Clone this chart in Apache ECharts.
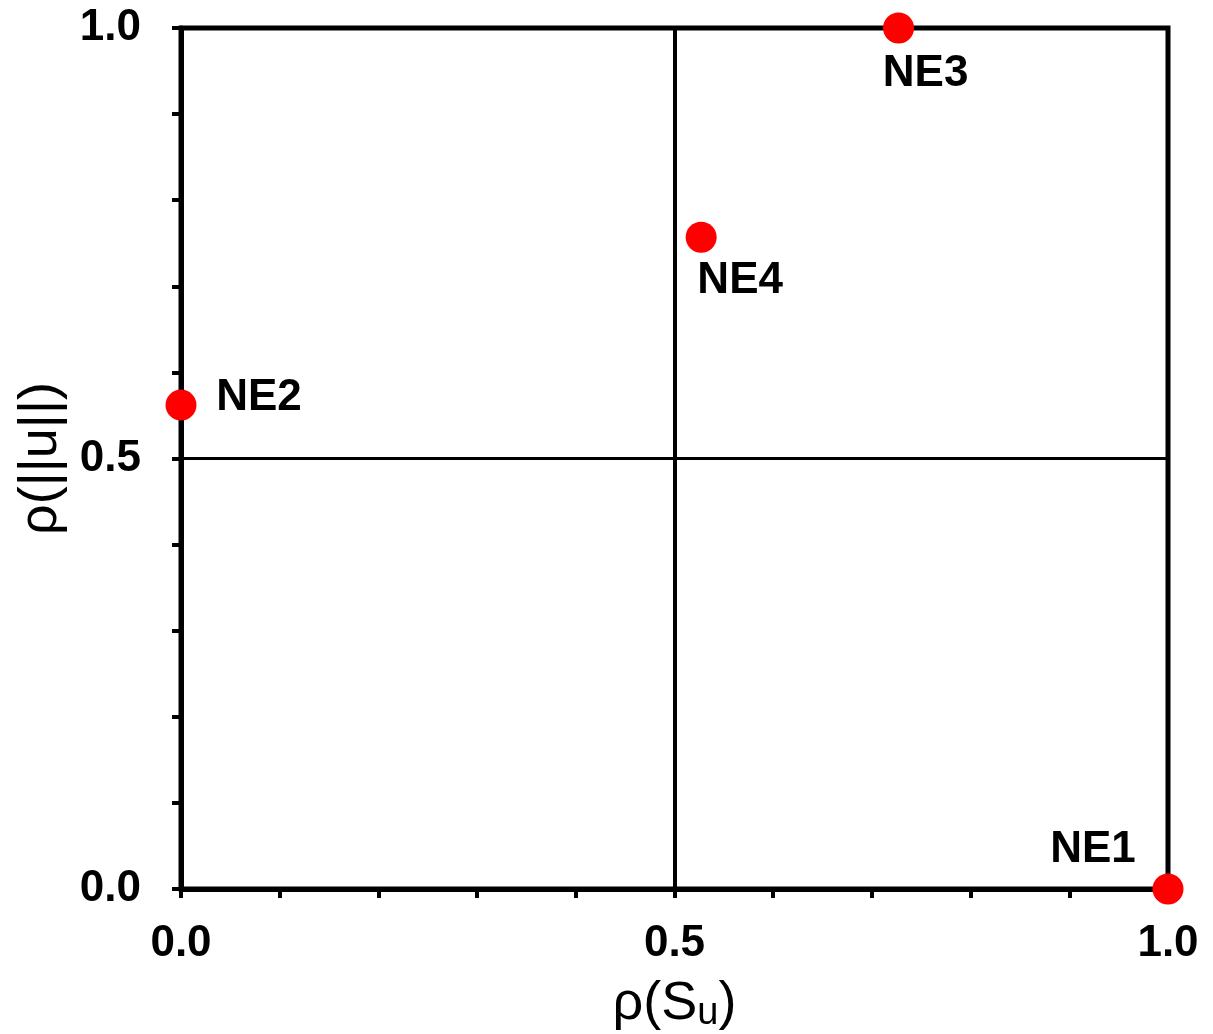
<!DOCTYPE html>
<html>
<head>
<meta charset="utf-8">
<script src="https://cdn.jsdelivr.net/npm/echarts@6/dist/echarts.min.js"></script>
<style>html,body{margin:0;padding:0;background:#fff}#c{width:1213px;height:1034px}</style>
</head>
<body>
<div id="c"></div>
<script>
var names = ['NE1', 'NE2', 'NE3', 'NE4'];
var xValues = [1.0, 0.0, 0.727, 0.527];
var yValues = [0.0, 0.562, 1.0, 0.757];
var tickLabels = ['0.0', '0.5', '1.0'];
var labelOffsets = [[-75, -39], [78, -7], [27, 46], [39, 44]];

var FONT = '"Liberation Sans", Arial, sans-serif';
var chart = echarts.init(document.getElementById('c'));
function fmt(v) {
  var s = (Math.round(v * 10) / 10).toFixed(1);
  return tickLabels.indexOf(s) >= 0 ? s : '';
}
var data = names.map(function (n, i) {
  return {
    name: n,
    value: [xValues[i], yValues[i]],
    label: { offset: labelOffsets[i] }
  };
});
var axisCommon = {
  type: 'value', min: 0, max: 1, interval: 0.1,
  axisLine: { show: true, lineStyle: { color: '#000', width: 5 } },
  axisTick: { show: true, inside: false, length: 9, lineStyle: { color: '#000', width: 4 } },
  splitLine: { show: false },
  axisLabel: { formatter: fmt, color: '#000', fontFamily: FONT, fontWeight: 'bold', fontSize: 44 },
  nameLocation: 'middle',
  nameMoveOverlap: false,
  nameTextStyle: { color: '#000', fontFamily: FONT, fontSize: 54 }
};
chart.setOption({
  animation: false,
  backgroundColor: '#fff',
  grid: {
    left: 181, right: 45, top: 28, bottom: 145,
    containLabel: false, outerBoundsMode: 'none',
    show: true, borderColor: '#000', borderWidth: 5, backgroundColor: 'transparent'
  },
  xAxis: Object.assign({}, axisCommon, {
    name: 'ρ(S{sub|u})',
    nameGap: 86,
    axisLabel: Object.assign({}, axisCommon.axisLabel, { margin: 33 }),
    nameTextStyle: Object.assign({}, axisCommon.nameTextStyle, {
      rich: { sub: { fontSize: 38, fontFamily: FONT, color: '#000', padding: [20, 0, 0, 0] } }
    })
  }),
  yAxis: Object.assign({}, axisCommon, {
    name: 'ρ(||u||)',
    nameGap: 113,
    nameRotate: 90,
    axisLabel: Object.assign({}, axisCommon.axisLabel, { margin: 40 })
  }),
  series: [{
    type: 'scatter',
    clip: false,
    symbol: 'circle',
    symbolSize: 31,
    itemStyle: { color: '#ff0000', opacity: 1 },
    label: {
      show: true, position: 'inside', formatter: '{b}',
      color: '#000', fontFamily: FONT, fontWeight: 'bold', fontSize: 44, opacity: 1
    },
    data: data,
    z: 5,
    markLine: {
      silent: true, symbol: 'none', animation: false,
      label: { show: false },
      data: [
        { xAxis: 0.5, lineStyle: { color: '#000', width: 4, type: 'solid', opacity: 1 } },
        { yAxis: 0.5, lineStyle: { color: '#000', width: 3, type: 'solid', opacity: 1 } }
      ]
    }
  }]
});
</script>
</body>
</html>
